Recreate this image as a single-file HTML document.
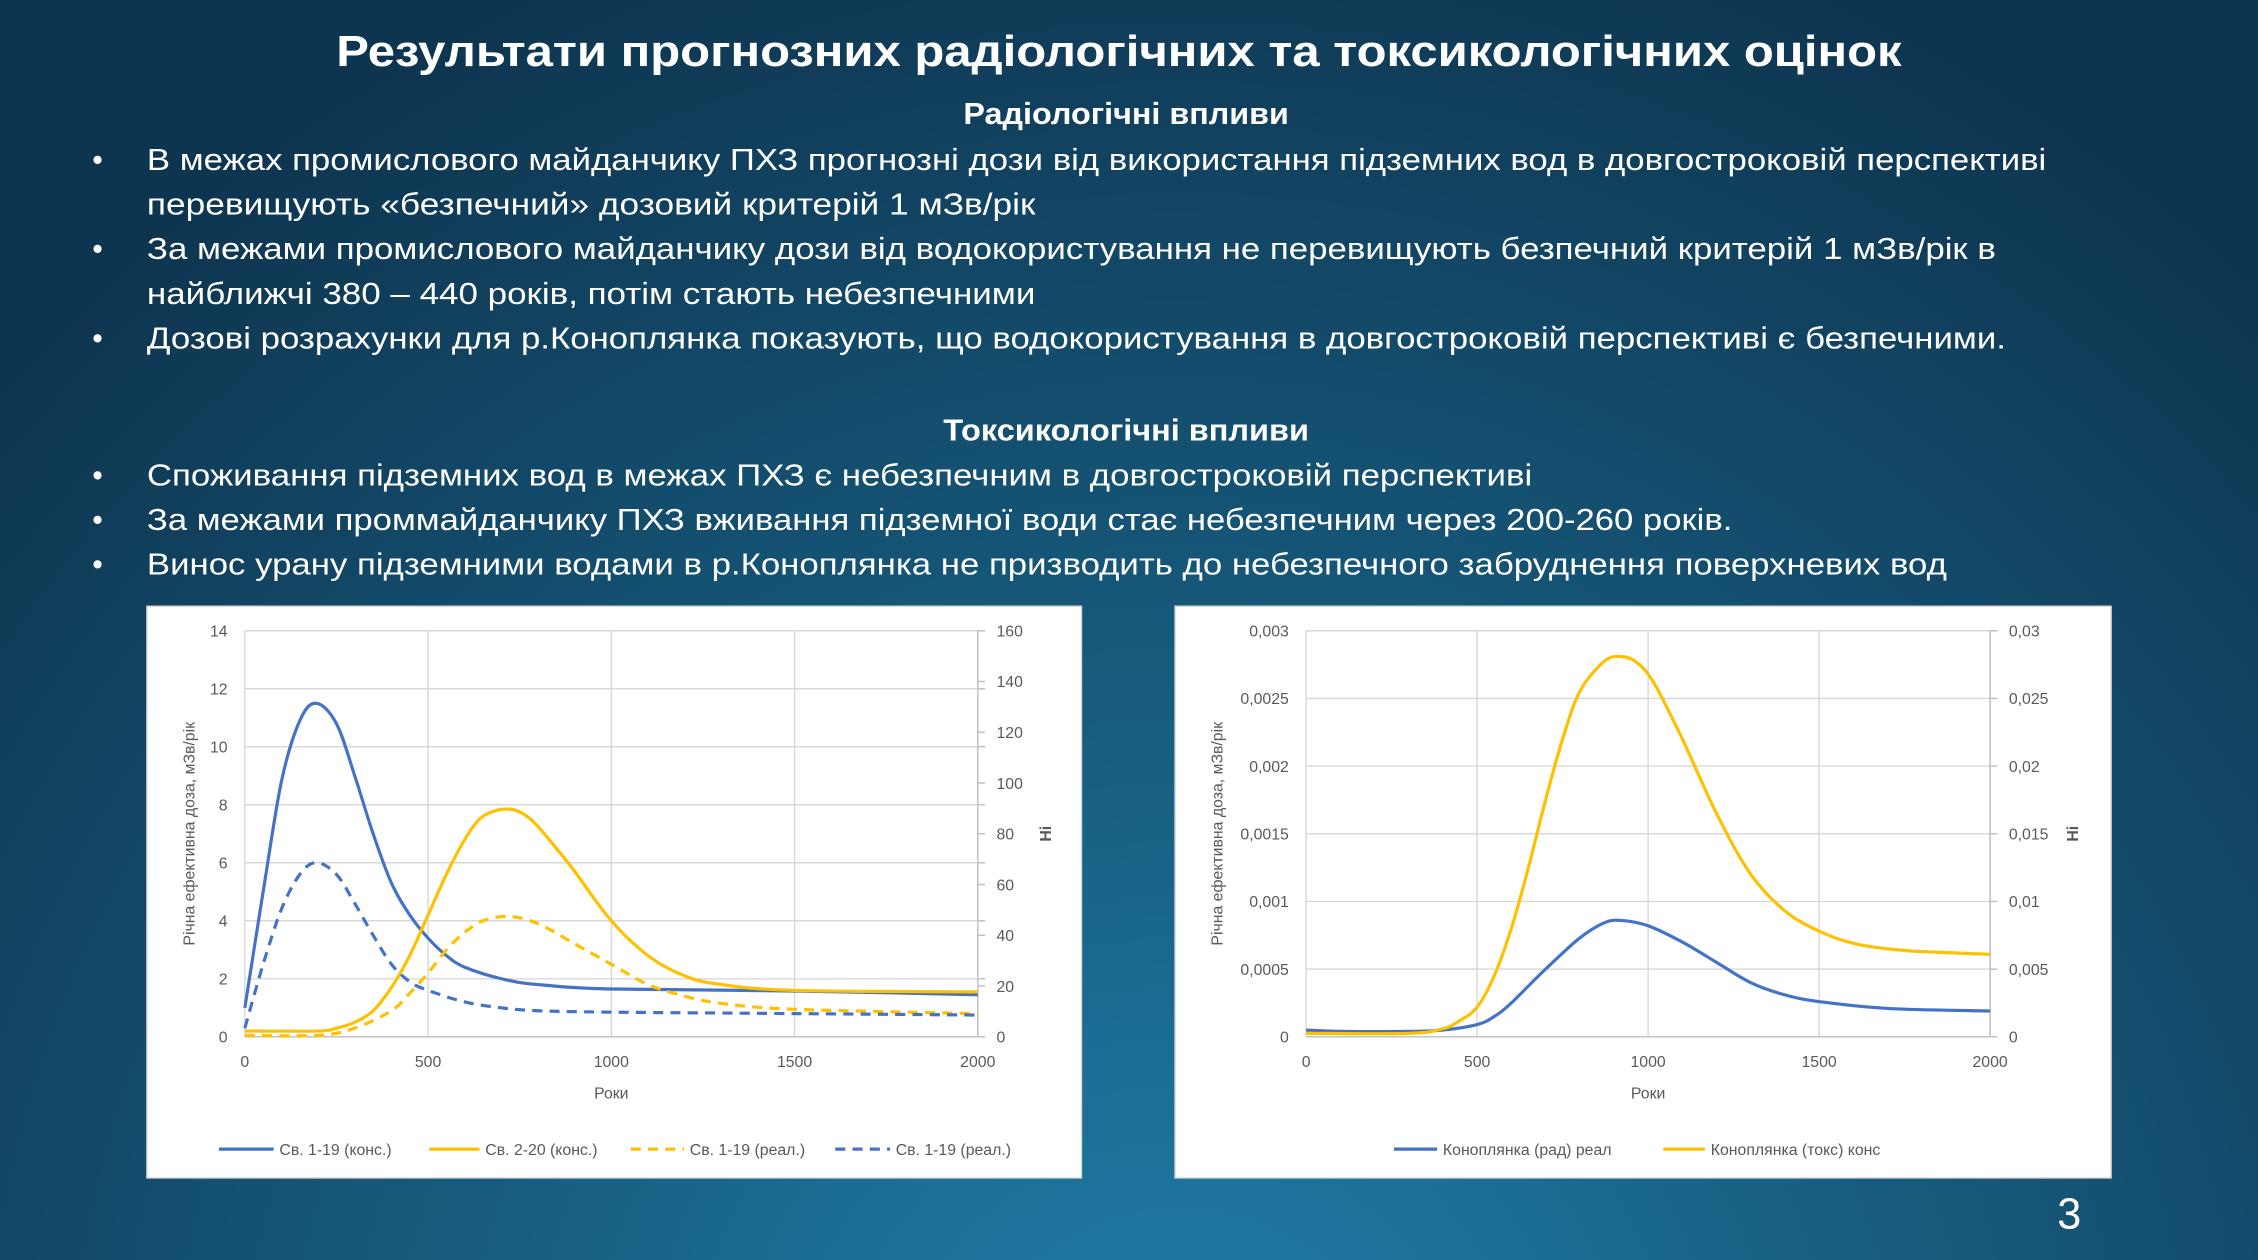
<!DOCTYPE html>
<html><head><meta charset="utf-8"><style>
html,body{margin:0;padding:0;width:2258px;height:1260px;overflow:hidden;background:#10405a}
svg{display:block}
text{font-family:"Liberation Sans","DejaVu Sans",sans-serif}
.w{fill:#fff}
.t{fill:#595959;font-size:11px}
</style></head><body>
<svg id="s" width="2258" height="1260" viewBox="0 0 1568 875" xmlns="http://www.w3.org/2000/svg">
<defs>
<radialGradient id="bg" cx="820" cy="1000" r="1100" gradientUnits="userSpaceOnUse">
<stop offset="0" stop-color="#2180ab"/><stop offset="0.45" stop-color="#175d80"/><stop offset="1" stop-color="#0e3550"/>
</radialGradient>
</defs>
<rect width="1568" height="875" fill="url(#bg)"/>
<text class="w" x="777" y="46" text-anchor="middle" font-size="30" font-weight="bold" textLength="1087" lengthAdjust="spacingAndGlyphs">Результати прогнозних радіологічних та токсикологічних оцінок</text>
<text class="w" x="782" y="86" text-anchor="middle" font-size="21" font-weight="bold" textLength="226" lengthAdjust="spacingAndGlyphs">Радіологічні впливи</text>
<g class="w" font-size="21">
<text x="64" y="118">•</text><text x="102" y="118" textLength="1319" lengthAdjust="spacingAndGlyphs">В межах промислового майданчику ПХЗ прогнозні дози від використання підземних вод в довгостроковій перспективі</text>
<text x="102" y="149" textLength="617" lengthAdjust="spacingAndGlyphs">перевищують «безпечний» дозовий критерій 1 мЗв/рік</text>
<text x="64" y="180">•</text><text x="102" y="180" textLength="1284" lengthAdjust="spacingAndGlyphs">За межами промислового майданчику дози від водокористування не перевищують безпечний критерій 1 мЗв/рік в</text>
<text x="102" y="211" textLength="617" lengthAdjust="spacingAndGlyphs">найближчі 380 – 440 років, потім стають небезпечними</text>
<text x="64" y="242">•</text><text x="102" y="242" textLength="1291" lengthAdjust="spacingAndGlyphs">Дозові розрахунки для р.Коноплянка показують, що водокористування в довгостроковій перспективі є безпечними.</text>
<text x="782" y="306" text-anchor="middle" font-weight="bold" textLength="254" lengthAdjust="spacingAndGlyphs">Токсикологічні впливи</text>
<text x="64" y="337">•</text><text x="102" y="337" textLength="962" lengthAdjust="spacingAndGlyphs">Споживання підземних вод в межах ПХЗ є небезпечним  в довгостроковій перспективі</text>
<text x="64" y="368">•</text><text x="102" y="368" textLength="1101" lengthAdjust="spacingAndGlyphs">За межами проммайданчику ПХЗ вживання підземної води стає небезпечним через 200-260 років.</text>
<text x="64" y="399">•</text><text x="102" y="399" textLength="1250" lengthAdjust="spacingAndGlyphs">Винос урану підземними водами в р.Коноплянка не призводить до небезпечного забруднення поверхневих вод</text>
</g>
<text class="w" x="1437" y="853" text-anchor="middle" font-size="30">3</text>

<rect x="102" y="421" width="649" height="397" fill="#fff" stroke="#d9d9d9"/>
<rect x="816" y="421" width="650" height="397" fill="#fff" stroke="#d9d9d9"/>
<g id="c1"></g><g id="c2"></g>
</svg>
<script>
var NS="http://www.w3.org/2000/svg";
function el(p,t,a,txt){var e=document.createElementNS(NS,t);for(var k in a)e.setAttribute(k,a[k]);if(txt!=null)e.textContent=txt;p.appendChild(e);return e;}
function smooth(pts){var d="M"+pts[0][0].toFixed(1)+","+pts[0][1].toFixed(1);for(var i=0;i<pts.length-1;i++){var p0=pts[i-1]||pts[i],p1=pts[i],p2=pts[i+1],p3=pts[i+2]||p2;var c1=[p1[0]+(p2[0]-p0[0])/6,p1[1]+(p2[1]-p0[1])/6],c2=[p2[0]-(p3[0]-p1[0])/6,p2[1]-(p3[1]-p1[1])/6];d+="C"+c1[0].toFixed(1)+","+c1[1].toFixed(1)+" "+c2[0].toFixed(1)+","+c2[1].toFixed(1)+" "+p2[0].toFixed(1)+","+p2[1].toFixed(1);}return d;}
function chart(g,o){
 var X=function(x){return o.x0+x*(o.x1-o.x0)/2000},Y=function(v){return o.y0-v*(o.y0-o.yt)/o.max};
 for(var i=0;i<=o.n;i++){var y=o.y0-i*(o.y0-o.yt)/o.n;el(g,"line",{x1:o.x0,x2:o.x1,y1:y,y2:y,stroke:"#d9d9d9","stroke-width":1});
  el(g,"text",{x:o.x0-12,y:y+4,"text-anchor":"end",class:"t"},o.ll[i]);
  el(g,"text",{x:o.x1+13,y:y+4,class:"t"},o.rl[i]);
  el(g,"line",{x1:o.x1,x2:o.x1+5,y1:y,y2:y,stroke:"#bfbfbf"});}
 for(var j=0;j<=4;j++){var x=X(j*500);el(g,"line",{x1:x,x2:x,y1:o.yt,y2:o.y0,stroke:"#d9d9d9"});el(g,"text",{x:x,y:741,"text-anchor":"middle",class:"t"},String(j*500));}
 el(g,"line",{x1:o.x0,x2:o.x1,y1:o.y0,y2:o.y0,stroke:"#bfbfbf"});
 el(g,"line",{x1:o.x1,x2:o.x1,y1:o.yt,y2:o.y0,stroke:"#bfbfbf"});
 el(g,"text",{x:(o.x0+o.x1)/2,y:763,"text-anchor":"middle",class:"t","font-size":"12"},"Роки");
 el(g,"text",{transform:"translate("+o.ax+",579) rotate(-90)","text-anchor":"middle",class:"t","font-size":"12"},"Річна ефективна доза, мЗв/рік");
 el(g,"text",{transform:"translate("+o.hx+",579) rotate(-90)","text-anchor":"middle",class:"t","font-size":"12","font-weight":"bold"},"Hi");
 o.s.forEach(function(s){var pts=s.p.map(function(q){return [X(q[0]),Y(q[1])]});var a={d:smooth(pts),fill:"none",stroke:s.c,"stroke-width":2.2};if(s.d)a["stroke-dasharray"]="7,5";el(g,"path",a);});
 o.lg.forEach(function(l){var a={x1:l[0],x2:l[1],y1:798,y2:798,stroke:l[2],"stroke-width":2.2};if(l[4])a["stroke-dasharray"]="7,5";el(g,"line",a);el(g,"text",{x:l[1]+4,y:802,class:"t"},l[3]);});
}
var B="#4472c4",Yl="#ffc000";
chart(document.getElementById("c1"),{x0:170,x1:679,y0:720,yt:438,max:14,n:7,ax:135,hx:730,
 ll:["0","2","4","6","8","10","12","14"],rl:["0","20","40","60","80","100","120","140","160"].slice(0,8),
 s:[
 {c:B,p:[[0,1.0],[50,5],[100,8.8],[150,10.9],[195,11.5],[250,10.8],[300,9],[350,7],[400,5.3],[450,4.2],[500,3.4],[550,2.8],[600,2.4],[700,2.0],[800,1.8],[1000,1.65],[1500,1.58],[2000,1.45]]},
 {c:Yl,p:[[0,0.2],[200,0.2],[250,0.3],[300,0.5],[350,0.9],[400,1.7],[450,2.8],[500,4.2],[550,5.6],[600,6.8],[650,7.6],[720,7.85],[780,7.5],[850,6.5],[900,5.7],[1000,4.0],[1100,2.8],[1200,2.1],[1300,1.8],[1500,1.6],[2000,1.55]]},
 {c:Yl,d:1,p:[[0,0.05],[200,0.05],[300,0.3],[400,0.9],[450,1.5],[500,2.2],[550,3.0],[600,3.6],[650,4.0],[720,4.15],[800,3.9],[900,3.2],[1000,2.5],[1100,1.8],[1200,1.4],[1300,1.15],[1500,0.95],[2000,0.8]]},
 {c:B,d:1,p:[[0,0.3],[50,2.5],[100,4.4],[150,5.6],[195,6.0],[250,5.6],[300,4.6],[350,3.5],[400,2.5],[450,1.9],[500,1.6],[600,1.2],[700,1.0],[800,0.9],[1000,0.85],[1500,0.8],[2000,0.75]]}],
 lg:[[152,190,B,"Св. 1-19 (конс.)"],[298,333,Yl,"Св. 2-20 (конс.)"],[438,475,Yl,"Св. 1-19 (реал.)",1],[580,618,B,"Св. 1-19 (реал.)",1]]});
// right axis of chart1 has 8 ticks 0..160 over 7 grid lines? handle separately
(function(){var g=document.getElementById("c1");var ts=g.querySelectorAll("text");})();
chart(document.getElementById("c2"),{x0:907,x1:1382,y0:720,yt:438,max:30,n:6,ax:849,hx:1443,
 ll:["0","0,0005","0,001","0,0015","0,002","0,0025","0,003"],rl:["0","0,005","0,01","0,015","0,02","0,025","0,03"],
 s:[
 {c:B,p:[[0,0.5],[100,0.4],[300,0.4],[400,0.5],[500,0.9],[550,1.5],[600,2.5],[700,5],[800,7.3],[870,8.4],[920,8.6],[1000,8.2],[1100,7],[1200,5.5],[1300,4],[1400,3.1],[1500,2.6],[1700,2.1],[2000,1.9]]},
 {c:Yl,p:[[0,0.25],[300,0.25],[400,0.6],[450,1.2],[500,2.2],[550,4.5],[600,8],[650,12.5],[700,17.5],[750,22],[800,25.5],[870,27.7],[920,28.1],[970,27.6],[1020,26],[1100,22],[1200,16.5],[1300,12],[1400,9.3],[1500,7.8],[1600,6.9],[1700,6.5],[1800,6.3],[2000,6.1]]}],
 lg:[[968,998,B,"Коноплянка (рад) реал"],[1155,1184,Yl,"Коноплянка (токс) конс"]]});
// fix chart1 right labels: 0..160 step 20 spread over plot (9 labels)
(function(){var g=document.getElementById("c1");Array.prototype.slice.call(g.querySelectorAll("text")).forEach(function(t){if(+t.getAttribute("x")===692)g.removeChild(t);});
for(var i=0;i<=8;i++){var y=720-i*282/8;el(g,"text",{x:692,y:y+4,class:"t"},String(i*20));el(g,"line",{x1:679,x2:684,y1:y,y2:y,stroke:"#bfbfbf"});}})();
</script>
</body></html>
